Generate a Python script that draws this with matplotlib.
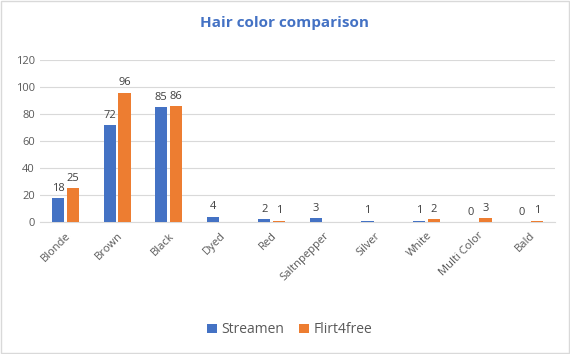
import numpy as np
import matplotlib.pyplot as plt

# données
categories = ['Blonde', 'Brown', 'Black', 'Dyed', 'Red', 'Saltnpepper',
              'Silver', 'White', 'Multi Color', 'Bald']
streamen = [18, 72, 85, 4, 2, 3, 1, 1, 0, 0]
flirt4free = [25, 96, 86, None, 1, None, None, 2, 3, 1]

blue = '#4472C4'
orange = '#ED7D31'
grey = '#595959'

plt.rcParams['font.family'] = ['Open Sans', 'DejaVu Sans']

fig = plt.figure(figsize=(5.7, 3.54), dpi=100)
ax = fig.add_axes([0.070, 0.373, 0.904, 0.457])

x = np.arange(len(categories))
w = 0.24
off = 0.145
s_vals = np.array([np.nan if v is None else v for v in streamen], dtype=float)
f_vals = np.array([np.nan if v is None else v for v in flirt4free], dtype=float)

b1 = ax.bar(x - off, s_vals, w, color=blue, label='Streamen', zorder=3)
b2 = ax.bar(x + off, f_vals, w, color=orange, label='Flirt4free', zorder=3)

for bars, vals in ((b1, streamen), (b2, flirt4free)):
    for rect, v in zip(bars, vals):
        if v is None:
            continue
        ax.annotate(str(v), (rect.get_x() + rect.get_width() / 2, v),
                    xytext=(0, 3), textcoords='offset points',
                    ha='center', va='bottom', fontsize=8, color='#404040')

ax.set_xlim(-0.5, len(categories) - 0.5)
ax.set_ylim(0, 120)
ax.set_yticks(range(0, 121, 20))
ax.yaxis.grid(True, color='#D9D9D9', linewidth=0.8, zorder=0)
ax.set_axisbelow(True)
for side in ['top', 'right', 'left']:
    ax.spines[side].set_visible(False)
ax.spines['bottom'].set_color('#D9D9D9')
ax.tick_params(length=0, labelsize=8, colors=grey)
ax.tick_params(axis='x', pad=6)
ax.set_xticks(x)
ax.set_xticklabels(categories, rotation=45, ha='right', rotation_mode='anchor')

fig.text(0.5, 0.935, 'Hair color comparison', ha='center', va='center',
         fontsize=11, fontweight='bold', color=blue)

fig.legend(handles=[b1, b2], loc='center', bbox_to_anchor=(0.508, 0.068),
           ncol=2, frameon=False, fontsize=10, labelcolor=grey,
           handlelength=0.7, handleheight=0.7, handletextpad=0.3,
           columnspacing=1.1)

# cadre gris autour de la figure
fig.patches.append(plt.Rectangle((0.002, 0.003), 0.996, 0.994, transform=fig.transFigure,
                                 fill=False, edgecolor='#D9D9D9', linewidth=1))

fig.savefig('out.png', dpi=100)
